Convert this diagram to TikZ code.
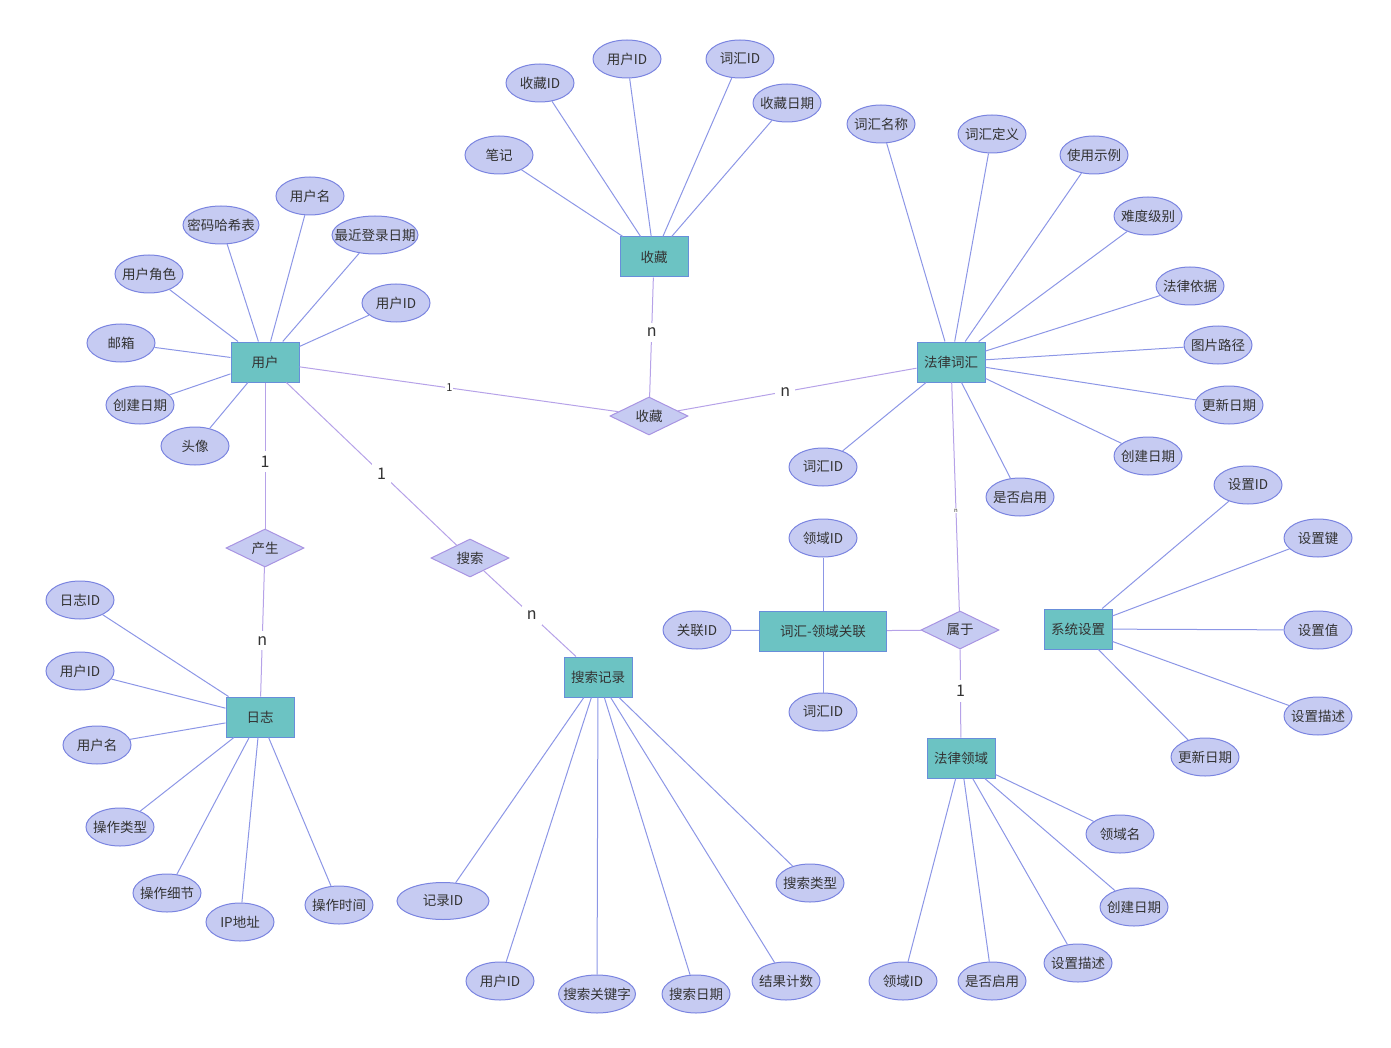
\documentclass[tikz,border=0pt]{standalone}
\usepackage{fontspec}
\setmainfont{Noto Sans CJK SC}
\usetikzlibrary{shapes.geometric}
\definecolor{entfill}{RGB}{108,195,195}
\definecolor{entdraw}{RGB}{104,142,218}
\definecolor{attfill}{RGB}{198,203,242}
\definecolor{attdraw}{RGB}{122,132,224}
\definecolor{reldraw}{RGB}{168,148,226}
\definecolor{attline}{RGB}{140,150,230}
\definecolor{relline}{RGB}{182,162,232}
\definecolor{txt}{RGB}{51,51,51}
\tikzset{
  entity/.style={draw=entdraw, line width=1pt, fill=entfill, minimum width=68pt, minimum height=40pt, inner sep=2pt, text=txt, font=\fontsize{13.5}{15}\selectfont},
  attr/.style={ellipse, draw=attdraw, line width=1pt, fill=attfill, minimum width=68pt, minimum height=38pt, inner xsep=-20pt, inner ysep=0pt, text=txt, font=\fontsize{13.5}{15}\selectfont},
  rel/.style={diamond, aspect=2, draw=reldraw, line width=1pt, fill=attfill, minimum width=78pt, minimum height=38pt, inner sep=0pt, text=txt, font=\fontsize{13.5}{15}\selectfont},
  attrline/.style={draw=attline, line width=1pt},
  relline/.style={draw=relline, line width=1pt},
  card/.style={fill=white, inner sep=5pt, text=txt, font=\fontsize{16}{18}\selectfont}
}
\begin{document}
\begin{tikzpicture}[x=1pt, y=-1pt]
  \useasboundingbox (0,0) rectangle (1391,1048);
  % entities
  \node[entity] (u) at (265,362) {用户};
  \node[entity] (fav) at (654,257) {收藏};
  \node[entity] (term) at (951,362) {法律词汇};
  \node[entity] (log) at (260,717) {日志};
  \node[entity] (srch) at (598,677) {搜索记录};
  \node[entity, minimum width=127pt] (tdl) at (823,631) {词汇-领域关联};
  \node[entity] (dom) at (961,758) {法律领域};
  \node[entity] (sys) at (1078,629) {系统设置};
  % relationships
  \node[rel] (rfav) at (649,416) {收藏};
  \node[rel] (rgen) at (265,548) {产生};
  \node[rel] (rsrch) at (470,558) {搜索};
  \node[rel] (rbel) at (960,630) {属于};
  % user attributes
  \node[attr] (u1) at (310,196) {用户名};
  \node[attr, minimum width=76pt] (u2) at (221,225) {密码哈希表};
  \node[attr, minimum width=86pt] (u3) at (375,235) {最近登录日期};
  \node[attr] (u4) at (149,274) {用户角色};
  \node[attr] (u5) at (396,303) {用户ID};
  \node[attr] (u6) at (121,343) {邮箱};
  \node[attr] (u7) at (140,405) {创建日期};
  \node[attr] (u8) at (195,446) {头像};
  % favourite attributes
  \node[attr] (f1) at (540,83) {收藏ID};
  \node[attr] (f2) at (627,59) {用户ID};
  \node[attr] (f3) at (740,59) {词汇ID};
  \node[attr] (f4) at (787,103) {收藏日期};
  \node[attr] (f5) at (499,155) {笔记};
  % term attributes
  \node[attr] (t1) at (881,124) {词汇名称};
  \node[attr] (t2) at (992,134) {词汇定义};
  \node[attr] (t3) at (1094,155) {使用示例};
  \node[attr] (t4) at (1148,216) {难度级别};
  \node[attr] (t5) at (1190,286) {法律依据};
  \node[attr] (t6) at (1218,345) {图片路径};
  \node[attr] (t7) at (1229,405) {更新日期};
  \node[attr] (t8) at (1148,456) {创建日期};
  \node[attr] (t9) at (1020,497) {是否启用};
  \node[attr] (t10) at (823,467) {词汇ID};
  % settings attributes
  \node[attr] (s1) at (1248,485) {设置ID};
  \node[attr] (s2) at (1318,538) {设置键};
  \node[attr] (s3) at (1318,630) {设置值};
  \node[attr] (s4) at (1318,716) {设置描述};
  \node[attr] (s5) at (1205,757) {更新日期};
  % link attributes
  \node[attr] (l1) at (823,538) {领域ID};
  \node[attr] (l2) at (697,630) {关联ID};
  \node[attr] (l3) at (823,712) {词汇ID};
  % domain attributes
  \node[attr] (d1) at (1120,834) {领域名};
  \node[attr] (d2) at (1134,907) {创建日期};
  \node[attr] (d3) at (1078,963) {设置描述};
  \node[attr] (d4) at (992,981) {是否启用};
  \node[attr] (d5) at (903,981) {领域ID};
  % log attributes
  \node[attr] (g1) at (80,600) {日志ID};
  \node[attr] (g2) at (80,671) {用户ID};
  \node[attr] (g3) at (97,745) {用户名};
  \node[attr] (g4) at (120,827) {操作类型};
  \node[attr] (g5) at (167,893) {操作细节};
  \node[attr] (g6) at (240,922) {IP地址};
  \node[attr] (g7) at (339,905) {操作时间};
  % search attributes
  \node[attr, minimum width=92pt, minimum height=37pt] (r1) at (443,901) {记录ID};
  \node[attr] (r2) at (500,981) {用户ID};
  \node[attr, minimum width=77pt] (r3) at (597,994) {搜索关键字};
  \node[attr] (r4) at (696,994) {搜索日期};
  \node[attr] (r5) at (786,981) {结果计数};
  \node[attr] (r6) at (810,883) {搜索类型};
  % attribute lines
  \foreach \a in {u1,u2,u3,u4,u5,u6,u7,u8} \draw[attrline] (u) -- (\a);
  \foreach \a in {f1,f2,f3,f4,f5} \draw[attrline] (fav) -- (\a);
  \foreach \a in {t1,t2,t3,t4,t5,t6,t7,t8,t9,t10} \draw[attrline] (term) -- (\a);
  \foreach \a in {s1,s2,s3,s4,s5} \draw[attrline] (sys) -- (\a);
  \foreach \a in {l1,l2,l3} \draw[attrline] (tdl) -- (\a);
  \foreach \a in {d1,d2,d3,d4,d5} \draw[attrline] (dom) -- (\a);
  \foreach \a in {g1,g2,g3,g4,g5,g6,g7} \draw[attrline] (log) -- (\a);
  \foreach \a in {r1,r2,r3,r4,r5,r6} \draw[attrline] (srch) -- (\a);
  % relationship lines
  \draw[relline] (u) -- node[card, pos=0.47, inner sep=1pt, font=\fontsize{11}{12}\selectfont] {1} (rfav);
  \draw[relline] (fav) -- node[card, pos=0.46] {n} (rfav);
  \draw[relline] (term) -- node[card, pos=0.55] {n} (rfav);
  \draw[relline] (u) -- node[card, pos=0.54] {1} (rgen);
  \draw[relline] (rgen) -- node[card, pos=0.57] {n} (log);
  \draw[relline] (u) -- node[card, pos=0.56] {1} (rsrch);
  \draw[relline] (rsrch) -- node[card, pos=0.52] {n} (srch);
  \draw[relline] (term) -- node[card, pos=0.56, inner sep=1pt, font=\fontsize{6}{7}\selectfont] {n} (rbel);
  \draw[relline] (tdl) -- (rbel);
  \draw[relline] (rbel) -- node[card, pos=0.47] {1} (dom);
\end{tikzpicture}
\end{document}
